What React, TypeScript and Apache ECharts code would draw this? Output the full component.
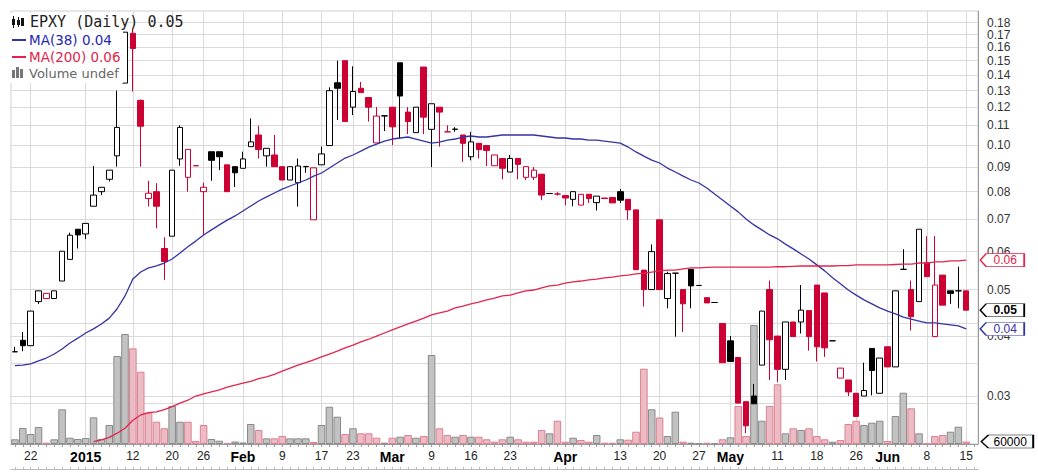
import React, { useEffect, useRef } from 'react';
import * as echarts from 'echarts';

const dates = [
  '2014-12-18','2014-12-19','2014-12-22','2014-12-23','2014-12-24','2014-12-26','2014-12-29','2014-12-30','2014-12-31',
  '2015-01-02','2015-01-05','2015-01-06','2015-01-07','2015-01-08','2015-01-09','2015-01-12','2015-01-13','2015-01-14','2015-01-15','2015-01-16',
  '2015-01-20','2015-01-21','2015-01-22','2015-01-23','2015-01-26','2015-01-27','2015-01-28','2015-01-29','2015-01-30',
  '2015-02-02','2015-02-03','2015-02-04','2015-02-05','2015-02-06','2015-02-09','2015-02-10','2015-02-11','2015-02-12','2015-02-13',
  '2015-02-17','2015-02-18','2015-02-19','2015-02-20','2015-02-23','2015-02-24','2015-02-25','2015-02-26','2015-02-27',
  '2015-03-02','2015-03-03','2015-03-04','2015-03-05','2015-03-06','2015-03-09','2015-03-10','2015-03-11','2015-03-12','2015-03-13',
  '2015-03-16','2015-03-17','2015-03-18','2015-03-19','2015-03-20','2015-03-23','2015-03-24','2015-03-25','2015-03-26','2015-03-27',
  '2015-03-30','2015-03-31','2015-04-01','2015-04-02','2015-04-06','2015-04-07','2015-04-08','2015-04-09','2015-04-10',
  '2015-04-13','2015-04-14','2015-04-15','2015-04-16','2015-04-17','2015-04-20','2015-04-21','2015-04-22','2015-04-23','2015-04-24',
  '2015-04-27','2015-04-28','2015-04-29','2015-04-30','2015-05-01','2015-05-04','2015-05-05','2015-05-06','2015-05-07','2015-05-08',
  '2015-05-11','2015-05-12','2015-05-13','2015-05-14','2015-05-15','2015-05-18','2015-05-19','2015-05-20','2015-05-21','2015-05-22',
  '2015-05-26','2015-05-27','2015-05-28','2015-05-29','2015-06-01','2015-06-02','2015-06-03','2015-06-04','2015-06-05',
  '2015-06-08','2015-06-09','2015-06-10','2015-06-11','2015-06-12','2015-06-15','2015-06-16'
];

const opens = [
  0.0371,0.0392,0.0382,0.0472,0.0479,0.0479,0.0521,0.0578,0.0668,0.0653,
  0.0746,0.0800,0.0849,0.0950,0.1347,0.1710,0.1240,0.0774,0.0800,0.0609,
  0.0646,0.0936,0.0857,0.0906,0.0800,0.0969,0.0969,0.0910,0.0902,0.0895,
  0.0993,0.1050,0.0950,0.0954,0.0902,0.0846,0.0835,0.0902,0.0699,0.0910,
  0.0998,0.1349,0.1500,0.1200,0.1314,0.1257,0.1011,0.1150,0.1200,0.1485,
  0.1172,0.1062,0.1455,0.1079,0.1200,0.1066,0.1079,0.1050,0.0946,0.1009,
  0.0998,0.0906,0.0938,0.0879,0.0938,0.0857,0.0857,0.0870,0.0793,0.0791,
  0.0785,0.0771,0.0750,0.0790,0.0759,0.0776,0.0778,0.0800,0.0771,0.0733,
  0.0549,0.0500,0.0699,0.0479,0.0541,0.0500,0.0551,0.0510,0.0481,0.0470,
  0.0425,0.0391,0.0361,0.0292,0.0300,0.0348,0.0500,0.0400,0.0341,0.0428,
  0.0428,0.0452,0.0511,0.0492,0.0391,0.0327,0.0324,0.0304,0.0300,0.0377,
  0.0304,0.0380,0.0345,0.0551,0.0500,0.0472,0.0569,0.0399,0.0536,0.0497,
  0.0497,0.0497
];
const closes = [
  0.0371,0.0382,0.0451,0.0497,0.0491,0.0497,0.0601,0.0649,0.0650,0.0687,
  0.0787,0.0817,0.0887,0.1089,0.1720,0.1590,0.1095,0.0794,0.0746,0.0572,
  0.0887,0.1089,0.0980,0.0906,0.0817,0.0930,0.0946,0.0800,0.0876,0.0936,
  0.1016,0.0979,0.0985,0.0902,0.0846,0.0902,0.0905,0.0903,0.0897,0.0959,
  0.1299,0.1314,0.1120,0.1294,0.1287,0.1200,0.1150,0.1152,0.1092,0.1266,
  0.1120,0.1200,0.1144,0.1220,0.1172,0.1066,0.1080,0.1009,0.1016,0.0979,
  0.0975,0.0954,0.0895,0.0938,0.0912,0.0902,0.0887,0.0787,0.0793,0.0791,
  0.0776,0.0800,0.0790,0.0774,0.0783,0.0774,0.0758,0.0768,0.0733,0.0550,
  0.0500,0.0600,0.0500,0.0540,0.0541,0.0467,0.0509,0.0510,0.0469,0.0470,
  0.0352,0.0354,0.0290,0.0260,0.0289,0.0451,0.0393,0.0341,0.0428,0.0399,
  0.0453,0.0399,0.0380,0.0378,0.0391,0.0343,0.0306,0.0272,0.0308,0.0339,
  0.0360,0.0345,0.0497,0.0551,0.0439,0.0668,0.0532,0.0511,0.0464,0.0491,
  0.0497,0.0453
];
const lows = [
  0.0371,0.0372,0.0382,0.0467,0.0479,0.0479,0.0521,0.0578,0.0609,0.0637,
  0.0746,0.0787,0.0840,0.0902,0.1347,0.1294,0.0902,0.0745,0.0671,0.0524,
  0.0646,0.0906,0.0800,0.0906,0.0650,0.0843,0.0887,0.0800,0.0818,0.0895,
  0.0993,0.0938,0.0902,0.0902,0.0846,0.0846,0.0745,0.0876,0.0699,0.0910,
  0.0998,0.1129,0.1120,0.1155,0.1287,0.1120,0.1011,0.1070,0.1000,0.1032,
  0.1055,0.1062,0.1055,0.0900,0.0993,0.1066,0.1066,0.0923,0.0930,0.0938,
  0.0905,0.0906,0.0849,0.0879,0.0849,0.0846,0.0846,0.0768,0.0793,0.0785,
  0.0749,0.0746,0.0750,0.0758,0.0731,0.0774,0.0758,0.0758,0.0699,0.0550,
  0.0461,0.0500,0.0500,0.0457,0.0399,0.0408,0.0457,0.0510,0.0469,0.0470,
  0.0352,0.0354,0.0290,0.0251,0.0289,0.0348,0.0324,0.0321,0.0324,0.0399,
  0.0405,0.0373,0.0354,0.0362,0.0391,0.0327,0.0300,0.0272,0.0300,0.0301,
  0.0304,0.0345,0.0345,0.0551,0.0411,0.0472,0.0532,0.0399,0.0464,0.0467,
  0.0457,0.0453
];
const highs = [
  0.0380,0.0408,0.0451,0.0497,0.0491,0.0497,0.0601,0.0657,0.0668,0.0687,
  0.0905,0.0817,0.0887,0.1299,0.1720,0.1750,0.1245,0.0843,0.0833,0.0643,
  0.0887,0.1100,0.0980,0.0906,0.0835,0.0969,0.0969,0.0910,0.0902,0.0969,
  0.1137,0.1098,0.0985,0.1050,0.0902,0.0902,0.0938,0.0903,0.0897,0.0993,
  0.1320,0.1500,0.1500,0.1460,0.1355,0.1257,0.1200,0.1152,0.1200,0.1485,
  0.1200,0.1200,0.1455,0.1220,0.1200,0.1100,0.1090,0.1050,0.1066,0.1009,
  0.0998,0.0954,0.0938,0.0954,0.0938,0.0902,0.0900,0.0870,0.0793,0.0798,
  0.0785,0.0800,0.0790,0.0790,0.0783,0.0776,0.0778,0.0810,0.0771,0.0733,
  0.0549,0.0621,0.0699,0.0545,0.0541,0.0500,0.0551,0.0510,0.0481,0.0470,
  0.0425,0.0400,0.0361,0.0292,0.0318,0.0451,0.0522,0.0400,0.0428,0.0428,
  0.0511,0.0452,0.0511,0.0492,0.0391,0.0343,0.0324,0.0304,0.0352,0.0377,
  0.0360,0.0380,0.0497,0.0607,0.0522,0.0668,0.0646,0.0646,0.0536,0.0497,
  0.0558,0.0497
];
// 'b' = close above previous close (black), 'r' = below (red)
const candleColors = [
  'b','b','b','b','r','b','b','b','b','b',
  'b','b','b','b','b','r','r','r','r','r',
  'b','b','r','r','r','b','b','r','b','b',
  'b','r','b','r','r','b','b','b','r','b',
  'b','b','r','b','r','r','r','b','r','b',
  'r','b','r','b','r','r','b','r','b','r',
  'r','r','r','b','r','r','r','r','b','r',
  'r','b','r','r','b','r','r','b','r','r',
  'r','b','r','b','b','r','b','b','r','b',
  'r','b','r','r','b','b','r','r','b','r',
  'b','r','r','r','b','r','r','r','b','b',
  'b','r','b','b','r','b','r','r','r','b',
  'b','r'
];
// volume in thousands of shares
const volumes = [
  117,397,248,422,32,117,861,156,124,149,
  662,124,471,2183,2729,2374,1794,777,553,390,
  943,553,553,74,471,124,82,25,62,37,
  496,347,141,141,198,141,141,141,50,471,
  925,677,248,390,265,265,156,32,156,181,
  223,156,198,2208,390,223,181,223,181,181,
  117,57,117,181,117,57,57,347,265,578,
  57,156,99,57,223,32,32,117,107,305,
  1868,861,657,198,801,57,32,17,32,17,
  117,166,943,198,2952,578,943,1481,265,390,
  347,390,198,117,57,99,496,578,471,528,
  578,74,695,1273,886,265,17,198,223,305,
  429,60
];
const ma38 = [
  0.0347,0.0348,0.0350,0.0355,0.0360,0.0367,0.0376,0.0387,0.0396,0.0406,
  0.0414,0.0424,0.0436,0.0456,0.0485,0.0526,0.0544,0.0555,0.0560,0.0568,
  0.0579,0.0596,0.0614,0.0631,0.0650,0.0666,0.0682,0.0698,0.0712,0.0729,
  0.0747,0.0765,0.0780,0.0795,0.0810,0.0822,0.0834,0.0846,0.0862,0.0875,
  0.0896,0.0918,0.0940,0.0954,0.0972,0.0991,0.1005,0.1020,0.1030,0.1035,
  0.1040,0.1030,0.1020,0.1010,0.1015,0.1025,0.1030,0.1040,0.1045,0.1040,
  0.1040,0.1045,0.1050,0.1050,0.1050,0.1050,0.1050,0.1045,0.1040,0.1035,
  0.1035,0.1030,0.1030,0.1025,0.1025,0.1020,0.1015,0.1010,0.0991,0.0968,
  0.0949,0.0931,0.0918,0.0896,0.0879,0.0862,0.0846,0.0834,0.0814,0.0791,
  0.0769,0.0747,0.0726,0.0702,0.0682,0.0666,0.0650,0.0638,0.0622,0.0608,
  0.0593,0.0579,0.0563,0.0547,0.0529,0.0514,0.0499,0.0487,0.0476,0.0467,
  0.0458,0.0451,0.0445,0.0438,0.0434,0.0430,0.0426,0.0426,0.0424,0.0422,
  0.0420,0.0414
];
const ma200 = [
  null,null,null,null,null,null,null,null,null,null,
  0.0241,0.0243,0.0246,0.0251,0.0257,0.0267,0.0274,0.0277,0.0278,0.0281,
  0.0285,0.0290,0.0294,0.0300,0.0303,0.0306,0.0309,0.0313,0.0316,0.0319,
  0.0322,0.0326,0.0329,0.0333,0.0338,0.0343,0.0348,0.0352,0.0357,0.0362,
  0.0367,0.0372,0.0378,0.0383,0.0389,0.0394,0.0400,0.0406,0.0412,0.0418,
  0.0424,0.0430,0.0436,0.0443,0.0447,0.0451,0.0458,0.0462,0.0467,0.0471,
  0.0476,0.0480,0.0485,0.0487,0.0492,0.0497,0.0499,0.0504,0.0509,0.0511,
  0.0516,0.0519,0.0521,0.0524,0.0526,0.0529,0.0531,0.0534,0.0536,0.0539,
  0.0541,0.0544,0.0547,0.0549,0.0549,0.0552,0.0555,0.0555,0.0556,0.0557,
  0.0557,0.0557,0.0557,0.0557,0.0557,0.0557,0.0557,0.0558,0.0558,0.0559,
  0.0560,0.0560,0.0560,0.0560,0.0560,0.0561,0.0561,0.0563,0.0563,0.0563,
  0.0563,0.0563,0.0564,0.0565,0.0565,0.0568,0.0568,0.0571,0.0571,0.0574,
  0.0574,0.0576
];

const tickDates = ['2014-12-22','2015-01-02','2015-01-12','2015-01-20','2015-01-26','2015-02-02','2015-02-09','2015-02-17','2015-02-23','2015-03-02','2015-03-09','2015-03-16','2015-03-23','2015-04-01','2015-04-13','2015-04-20','2015-04-27','2015-05-01','2015-05-11','2015-05-18','2015-05-26','2015-06-01','2015-06-08','2015-06-15'];
const tickLabels = ['22','2015','12','20','26','Feb','9','17','23','Mar','9','16','23','Apr','13','20','27','May','11','18','26','Jun','8','15'];
const boldLabels = ['2015','Feb','Mar','Apr','May','Jun'];

const priceTicks = [0.03,0.04,0.05,0.06,0.07,0.08,0.09,0.10,0.11,0.12,0.13,0.14,0.15,0.16,0.17,0.18];
const volumeTicks = [1000,2000,3000];

const RED = '#cc0033';
const BLUE = '#3333a6';
const MA_RED = '#e2254c';
const GRID = '#dadada';
const TAG = 'path://M0,6.5L6,0L44,0L44,13L6,13Z';

export default function App() {
  const ref = useRef<HTMLDivElement>(null);
  useEffect(() => {
    document.body.style.margin = '0';
    const chart = echarts.init(ref.current!, null, { renderer: 'svg' });
    const n = closes.length;
    const last = dates[n - 1];
    const candle = (c: string) =>
      dates.map((_, i) =>
        i < n && candleColors[i] === c ? [opens[i], closes[i], lows[i], highs[i]] : ['-', '-', '-', '-']
      );
    const volData = volumes.map((v, i) => ({
      value: v,
      itemStyle:
        candleColors[i] === 'b'
          ? { color: '#c2c2c2', borderColor: '#8a8a8a' }
          : { color: '#ebbcc4', borderColor: '#dc8094' },
    }));
    const tagPoint = (val: number, text: string, color: string, bold: boolean, w: number, offX: number) => ({
      coord: [last, val],
      symbol: TAG,
      symbolSize: [w, 13],
      symbolOffset: [offX, 0],
      itemStyle: { color: '#fff', borderColor: color, borderWidth: 1 },
      label: {
        show: true,
        position: 'inside',
        offset: [3, 0],
        formatter: text,
        color: bold ? '#000' : color,
        fontWeight: bold ? 'bold' : 'normal',
        fontSize: 12,
        fontFamily: 'Liberation Sans, Arial, sans-serif',
      },
    });

    const option: any = {
      animation: false,
      backgroundColor: '#fff',
      grid: { left: 11, right: 60, top: 11, bottom: 28, show: true, borderColor: '#cfcfcf', borderWidth: 1 },
      xAxis: [
        {
          type: 'category',
          data: dates,
          boundaryGap: true,
          axisLine: { show: true, lineStyle: { color: '#9a9a9a' } },
          axisTick: { show: true, interval: 0, alignWithLabel: true, length: 3, lineStyle: { color: '#9a9a9a' } },
          splitLine: { show: false },
          axisLabel: {
            interval: (_i: number, v: string) => tickDates.indexOf(v) >= 0,
            formatter: (v: string) => {
              const k = tickDates.indexOf(v);
              if (k < 0) return '';
              const t = tickLabels[k];
              return boldLabels.indexOf(t) >= 0 ? `{b|${t}}` : t;
            },
            color: '#222',
            fontSize: 12,
            fontFamily: 'Liberation Sans, Arial, sans-serif',
            margin: 6,
            rich: { b: { fontWeight: 'bold', fontSize: 14, color: '#000', fontFamily: 'Liberation Sans, Arial, sans-serif' } },
          },
        },
        {
          type: 'category',
          data: dates,
          position: 'bottom',
          offset: 25,
          axisLine: { show: true, lineStyle: { color: '#bbbbbb' } },
          axisTick: { show: true, inside: true, interval: 0, alignWithLabel: true, length: 2, lineStyle: { color: '#bbbbbb' } },
          axisLabel: { show: false },
          splitLine: { show: false },
        },
      ],
      yAxis: [
        {
          type: 'log',
          logBase: 10,
          min: 0.02383,
          max: 0.1904,
          position: 'right',
          axisLine: { show: true, lineStyle: { color: '#9a9a9a' } },
          axisTick: { show: false },
          axisLabel: { show: false },
          splitLine: { show: false },
        },
        {
          type: 'value',
          min: 0,
          max: 10744,
          position: 'left',
          show: false,
          splitLine: { show: false },
        },
      ],
      series: [
        {
          name: 'Volume',
          type: 'bar',
          xAxisIndex: 0,
          yAxisIndex: 1,
          data: volData,
          barCategoryGap: '4%',
          itemStyle: { borderWidth: 1 },
          z: 2,
          markLine: {
            silent: true,
            symbol: 'none',
            z: 1,
            animation: false,
            lineStyle: { color: GRID, width: 1, type: 'solid' },
            label: { show: false },
            data: [
              ...tickDates.map((d) => ({ xAxis: d })),
              ...volumeTicks.map((v) => ({ yAxis: v })),
            ],
          },
          markPoint: {
            z: 6,
            animation: false,
            data: [tagPoint(volumes[n - 1], '60000', '#000', false, 52, 41)],
          },
        },
        {
          name: 'EPXY up',
          type: 'candlestick',
          xAxisIndex: 0,
          yAxisIndex: 0,
          data: candle('b'),
          barWidth: 6,
          z: 3,
          itemStyle: {
            color: '#ffffff', color0: '#000000', borderColor: '#000000', borderColor0: '#000000',
            borderColorDoji: '#000000', borderWidth: 1,
          },
        },
        {
          name: 'EPXY down',
          type: 'candlestick',
          xAxisIndex: 0,
          yAxisIndex: 0,
          data: candle('r'),
          barWidth: 6,
          z: 3,
          itemStyle: {
            color: '#ffffff', color0: RED, borderColor: RED, borderColor0: RED,
            borderColorDoji: RED, borderWidth: 1,
          },
          markPoint: {
            z: 7,
            animation: false,
            data: [tagPoint(closes[n - 1], '0.05', '#000', true, 44, 36)],
          },
        },
        {
          name: 'MA(38)',
          type: 'line',
          xAxisIndex: 0,
          yAxisIndex: 0,
          data: ma38,
          symbol: 'none',
          z: 4,
          lineStyle: { color: BLUE, width: 1.3 },
          markLine: {
            silent: true,
            symbol: 'none',
            z: 1,
            animation: false,
            lineStyle: { color: GRID, width: 1, type: 'solid' },
            label: {
              show: true,
              position: 'end',
              distance: 9,
              formatter: '{b}',
              color: '#333',
              fontSize: 12,
              fontFamily: 'Liberation Sans, Arial, sans-serif',
            },
            data: priceTicks.map((p) => ({ yAxis: p, name: p.toFixed(2) })),
          },
          markPoint: {
            z: 8,
            animation: false,
            data: [tagPoint(ma38[n - 1], '0.04', BLUE, false, 44, 36)],
          },
        },
        {
          name: 'MA(200)',
          type: 'line',
          xAxisIndex: 0,
          yAxisIndex: 0,
          data: ma200,
          symbol: 'none',
          z: 4,
          lineStyle: { color: MA_RED, width: 1.3 },
          markPoint: {
            z: 7,
            animation: false,
            data: [tagPoint(ma200[n - 1] as number, '0.06', MA_RED, false, 44, 36)],
          },
        },
      ],
      graphic: [
        { type: 'rect', z: 100, shape: { x: 10, y: 13, width: 113, height: 70 }, style: { fill: '#fff' } },
        { type: 'rect', z: 101, shape: { x: 12, y: 19, width: 3, height: 6 }, style: { fill: '#111' } },
        { type: 'line', z: 101, shape: { x1: 13.5, y1: 16, x2: 13.5, y2: 28 }, style: { stroke: '#111', lineWidth: 1 } },
        { type: 'rect', z: 101, shape: { x: 17, y: 20, width: 3, height: 5 }, style: { fill: '#111' } },
        { type: 'line', z: 101, shape: { x1: 18.5, y1: 17, x2: 18.5, y2: 27 }, style: { stroke: '#111', lineWidth: 1 } },
        { type: 'rect', z: 101, shape: { x: 21, y: 18, width: 3, height: 8 }, style: { fill: '#111' } },
        {
          type: 'text', z: 101, x: 30, y: 22,
          style: { text: 'EPXY (Daily) 0.05', fill: '#222', font: '15px "DejaVu Sans Mono", monospace', verticalAlign: 'middle', textVerticalAlign: 'middle' },
        },
        { type: 'line', z: 101, shape: { x1: 12, y1: 40, x2: 26, y2: 40 }, style: { stroke: BLUE, lineWidth: 2 } },
        {
          type: 'text', z: 101, x: 29, y: 40,
          style: { text: 'MA(38) 0.04', fill: '#2626b0', font: '13.5px "DejaVu Sans", sans-serif', verticalAlign: 'middle', textVerticalAlign: 'middle' },
        },
        { type: 'line', z: 101, shape: { x1: 12, y1: 57, x2: 26, y2: 57 }, style: { stroke: MA_RED, lineWidth: 2 } },
        {
          type: 'text', z: 101, x: 29, y: 57,
          style: { text: 'MA(200) 0.06', fill: MA_RED, font: '13.5px "DejaVu Sans", sans-serif', verticalAlign: 'middle', textVerticalAlign: 'middle' },
        },
        { type: 'rect', z: 101, shape: { x: 12, y: 70, width: 3, height: 8 }, style: { fill: '#777' } },
        { type: 'rect', z: 101, shape: { x: 16, y: 67, width: 3, height: 11 }, style: { fill: '#777' } },
        { type: 'rect', z: 101, shape: { x: 20, y: 69, width: 3, height: 9 }, style: { fill: '#777' } },
        {
          type: 'text', z: 101, x: 29, y: 73,
          style: { text: 'Volume undef', fill: '#666', font: '13px "DejaVu Sans", sans-serif', verticalAlign: 'middle', textVerticalAlign: 'middle' },
        },
      ],
    };
    chart.setOption(option);
    return () => chart.dispose();
  }, []);
  return <div ref={ref} style={{ width: 1038, height: 472 }} />;
}
